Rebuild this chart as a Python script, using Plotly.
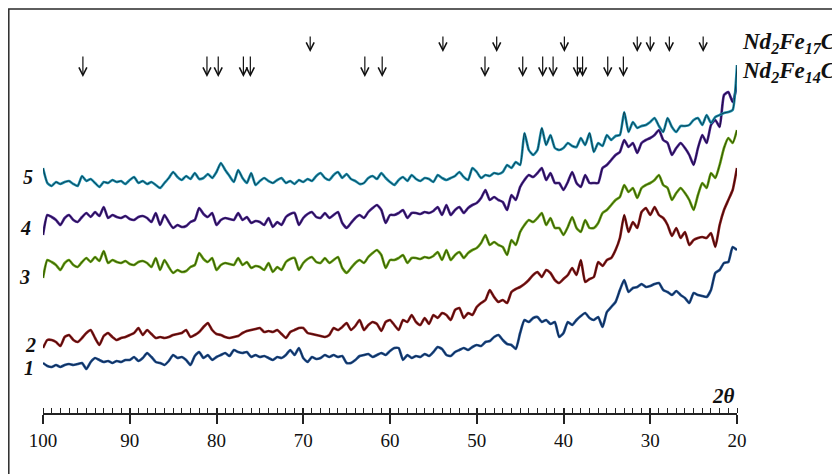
import plotly.graph_objects as go

# 2-theta sampling grid (degrees), 100 -> 20 in 0.5 deg steps
TWO_THETA = [100 - 0.5 * i for i in range(161)]

# Intensities (arbitrary units, offset-stacked), one row = 5 degrees
curve5 = [
    245, 230, 227, 231, 229, 231, 232, 229, 227, 237,
    232, 234, 230, 226, 231, 230, 233, 231, 232, 229,
    233, 236, 230, 232, 229, 231, 228, 225, 230, 235,
    241, 236, 233, 237, 234, 240, 234, 235, 239, 235,
    241, 250, 243, 237, 231, 243, 235, 230, 240, 228,
    232, 235, 232, 230, 233, 235, 230, 232, 229, 233,
    231, 234, 232, 237, 240, 235, 233, 238, 241, 235,
    239, 234, 232, 229, 230, 235, 237, 234, 240, 235,
    231, 228, 233, 236, 232, 238, 234, 232, 235, 234,
    231, 238, 235, 233, 235, 237, 241, 236, 233, 245,
    241, 235, 238, 237, 240, 239, 241, 248, 245, 251,
    248, 280, 263, 258, 263, 285, 268, 278, 265, 263,
    265, 270, 267, 266, 275, 268, 280, 261, 270, 267,
    278, 273, 277, 278, 301, 281, 291, 285, 287, 288,
    291, 295, 287, 281, 295, 286, 281, 287, 287, 288,
    293, 295, 288, 298, 290, 296, 298, 300, 301, 303,
    348,
]
curve4 = [
    178, 198, 196, 193, 188, 195, 198, 193, 191, 196,
    200, 196, 201, 197, 206, 195, 198, 196, 195, 197,
    194, 193, 196, 197, 195, 191, 200, 188, 198, 191,
    185, 188, 186, 187, 191, 193, 205, 199, 196, 200,
    188, 193, 195, 194, 193, 200, 193, 196, 190, 192,
    191, 188, 195, 186, 191, 188, 196, 199, 200, 188,
    195, 199, 201, 196, 195, 200, 195, 198, 201, 190,
    185, 190, 195, 198, 195, 201, 205, 208, 203, 190,
    198, 198, 200, 203, 195, 200, 200, 199, 201, 200,
    202, 206, 198, 208, 198, 203, 206, 200, 205, 208,
    210, 215, 223, 213, 216, 213, 211, 203, 218, 213,
    226, 233, 238, 236, 240, 245, 233, 240, 230, 230,
    223, 231, 241, 230, 226, 238, 230, 230, 230, 245,
    248, 253, 258, 261, 273, 266, 270, 260, 270, 273,
    275, 278, 283, 273, 270, 258, 265, 270, 265, 258,
    248, 265, 278, 270, 288, 293, 286, 318, 321, 311,
    328,
]
curve3 = [
    135, 153, 151, 148, 143, 150, 153, 148, 146, 151,
    155, 151, 156, 152, 162, 150, 153, 151, 150, 152,
    149, 148, 151, 152, 150, 146, 155, 143, 153, 146,
    140, 143, 141, 142, 146, 148, 160, 154, 151, 155,
    143, 148, 150, 149, 148, 155, 148, 151, 145, 147,
    146, 143, 150, 141, 146, 143, 151, 154, 155, 143,
    150, 154, 156, 151, 150, 155, 150, 153, 156, 145,
    140, 145, 150, 153, 150, 156, 160, 163, 158, 145,
    153, 153, 155, 158, 150, 155, 155, 154, 156, 155,
    157, 161, 153, 163, 153, 158, 161, 155, 160, 163,
    165, 170, 178, 168, 171, 168, 166, 158, 173, 168,
    181, 188, 193, 191, 195, 200, 188, 195, 185, 185,
    178, 186, 196, 185, 181, 193, 185, 185, 190, 200,
    203, 208, 213, 216, 228, 221, 225, 215, 225, 228,
    230, 233, 238, 228, 225, 213, 220, 225, 220, 213,
    203, 218, 230, 225, 240, 235, 248, 265, 275, 270,
    283,
]
curve2 = [
    65, 73, 73, 71, 67, 76, 78, 73, 71, 75,
    80, 83, 75, 68, 77, 80, 76, 73, 75, 76,
    78, 80, 85, 78, 83, 79, 75, 76, 75, 76,
    78, 79, 80, 83, 76, 78, 81, 86, 90, 83,
    79, 78, 76, 75, 76, 77, 80, 82, 83, 84,
    85, 81, 82, 81, 83, 79, 75, 81, 83, 85,
    85, 80, 79, 78, 77, 76, 78, 85, 83, 86,
    90, 83, 87, 93, 83, 88, 91, 89, 82, 91,
    93, 88, 83, 93, 91, 98, 91, 88, 95, 89,
    98, 95, 100, 98, 93, 103, 105, 95, 100, 98,
    106, 110, 113, 123, 116, 111, 113, 110, 121, 124,
    126, 129, 133, 138, 141, 136, 143, 140, 133, 130,
    134, 138, 145, 138, 153, 131, 134, 136, 151, 147,
    153, 155, 163, 175, 198, 181, 191, 185, 201, 205,
    198, 206, 198, 195, 188, 177, 185, 175, 181, 168,
    173, 175, 176, 175, 180, 166, 188, 203, 213, 223,
    245,
]
curve1 = [
    50, 47, 46, 48, 46, 48, 49, 48, 49, 50,
    44, 51, 55, 53, 51, 52, 50, 52, 51, 53,
    53, 56, 52, 55, 60, 56, 51, 50, 48, 52,
    58, 55, 56, 53, 48, 57, 61, 55, 58, 53,
    56, 58, 60, 57, 63, 61, 60, 61, 56, 58,
    56, 57, 55, 53, 56, 55, 58, 63, 58, 65,
    55, 51, 56, 54, 55, 58, 56, 58, 56, 57,
    50, 50, 53, 57, 58, 59, 56, 58, 60, 58,
    62, 65, 65, 53, 58, 55, 57, 56, 59, 57,
    61, 66, 64, 58, 57, 61, 63, 65, 63, 66,
    68, 67, 71, 72, 76, 78, 73, 69, 68, 64,
    80, 93, 91, 95, 96, 91, 93, 89, 91, 76,
    80, 91, 88, 93, 97, 100, 95, 93, 96, 86,
    101, 106, 111, 123, 133, 121, 125, 126, 129, 126,
    127, 129, 130, 123, 121, 118, 122, 118, 115, 110,
    120, 118, 117, 116, 123, 140, 143, 150, 151, 166,
    163,
]

curve_labels = ["1", "2", "3", "4", "5"]
series = [curve1, curve2, curve3, curve4, curve5]
colors = ["#1f4f8f", "#8c1c1c", "#6aa416", "#4a2390", "#1f93b3"]
cores = ["#0f2548", "#3a0808", "#2c4a06", "#1c0c3a", "#0c3a4a"]
label_levels = [45, 68, 136, 185, 236]
label_px = [36, 38, 32, 33, 35]

# Reference peak positions (2theta)
nd2fe17cx_peaks = [69.2, 53.9, 47.7, 39.9, 31.5, 30.0, 27.8, 23.9]
nd2fe14c_peaks = [95.4, 81.1, 79.8, 76.9, 76.1, 62.9, 60.9, 49.05, 44.7,
                  42.4, 41.2, 38.4, 37.8, 34.9, 33.1]

fig = go.Figure()
for ys, c, k in zip(series, colors, cores):
    fig.add_trace(go.Scatter(x=TWO_THETA, y=ys, mode="lines",
                             line=dict(color=c, width=2.6, shape="spline",
                                       smoothing=0.5), hoverinfo="skip"))
    fig.add_trace(go.Scatter(x=TWO_THETA, y=ys, mode="lines",
                             line=dict(color=k, width=1.0, shape="spline",
                                       smoothing=0.5), hoverinfo="skip"))

# peak marker arrows
for xp in nd2fe17cx_peaks:
    fig.add_annotation(x=xp, y=361, xref="x", yref="y", text="", showarrow=True,
                       ax=0, ay=-17, arrowhead=5, arrowsize=1.3, arrowwidth=1.2,
                       arrowcolor="#111", standoff=0)
for xp in nd2fe14c_peaks:
    fig.add_annotation(x=xp, y=336, xref="x", yref="y", text="", showarrow=True,
                       ax=0, ay=-22, arrowhead=5, arrowsize=1.3, arrowwidth=1.2,
                       arrowcolor="#111", standoff=0)

serif_bi = dict(family="Liberation Serif", size=20, color="#111")
for lab, lvl, px in zip(curve_labels, label_levels, label_px):
    fig.add_annotation(x=(px - 43) / 694, xref="paper", y=lvl, yref="y",
                       text="<b><i>%s</i></b>" % lab, showarrow=False,
                       xanchor="right", yanchor="middle", font=serif_bi)

fig.add_annotation(x=(740 - 43) / 694, xref="paper", y=370, yref="y",
                   text="<b><i>Nd<sub>2</sub>Fe<sub>17</sub>C<sub>x</sub></i></b>",
                   showarrow=False, xanchor="left", yanchor="middle",
                   font=dict(family="Liberation Serif", size=23, color="#111"))
fig.add_annotation(x=(740 - 43) / 694, xref="paper", y=341, yref="y",
                   text="<b><i>Nd<sub>2</sub>Fe<sub>14</sub>C</i></b>",
                   showarrow=False, xanchor="left", yanchor="middle",
                   font=dict(family="Liberation Serif", size=23, color="#111"))
fig.add_annotation(x=20, xref="x", y=17, yref="y", text="<b><i>2θ</i></b>",
                   showarrow=False, xanchor="right", yanchor="middle",
                   font=dict(family="Liberation Serif", size=21, color="#111"))

fig.add_shape(type="rect", xref="paper", yref="paper",
              x0=(0.8 - 35) / 694, x1=1.3, y0=-0.3, y1=(413 - 9) / 403,
              line=dict(color="#2a2a2a", width=1.5), fillcolor="rgba(0,0,0,0)",
              layer="above")

axis_font = dict(family="Liberation Serif", size=19, color="#111")
fig.update_layout(
    width=840, height=474,
    margin=dict(l=35, r=111, t=2, b=69),
    paper_bgcolor="white", plot_bgcolor="white",
    showlegend=False,
    xaxis=dict(range=[100, 20], tick0=20, dtick=10, showgrid=False, zeroline=False,
               showline=True, linecolor="#222", linewidth=1.5,
               ticks="outside", ticklen=9, tickwidth=1.5, tickcolor="#222",
               tickfont=axis_font,
               minor=dict(dtick=1, ticks="inside", ticklen=5, tickwidth=1,
                          tickcolor="#222", showgrid=False)),
    xaxis2=dict(range=[100, 20], overlaying="x", anchor="y", side="bottom",
                tick0=20, dtick=10, ticks="inside", ticklen=5, tickwidth=1.5,
                tickcolor="#222", showticklabels=False, showline=False,
                showgrid=False, zeroline=False),
    yaxis=dict(range=[0, 403], visible=False),
)
# empty trace so the overlay axis (inner half of the major ticks) is drawn
fig.add_trace(go.Scatter(x=[100, 20], y=[None, None], xaxis="x2", mode="lines",
                         hoverinfo="skip", showlegend=False))

fig.write_html("out.html")
